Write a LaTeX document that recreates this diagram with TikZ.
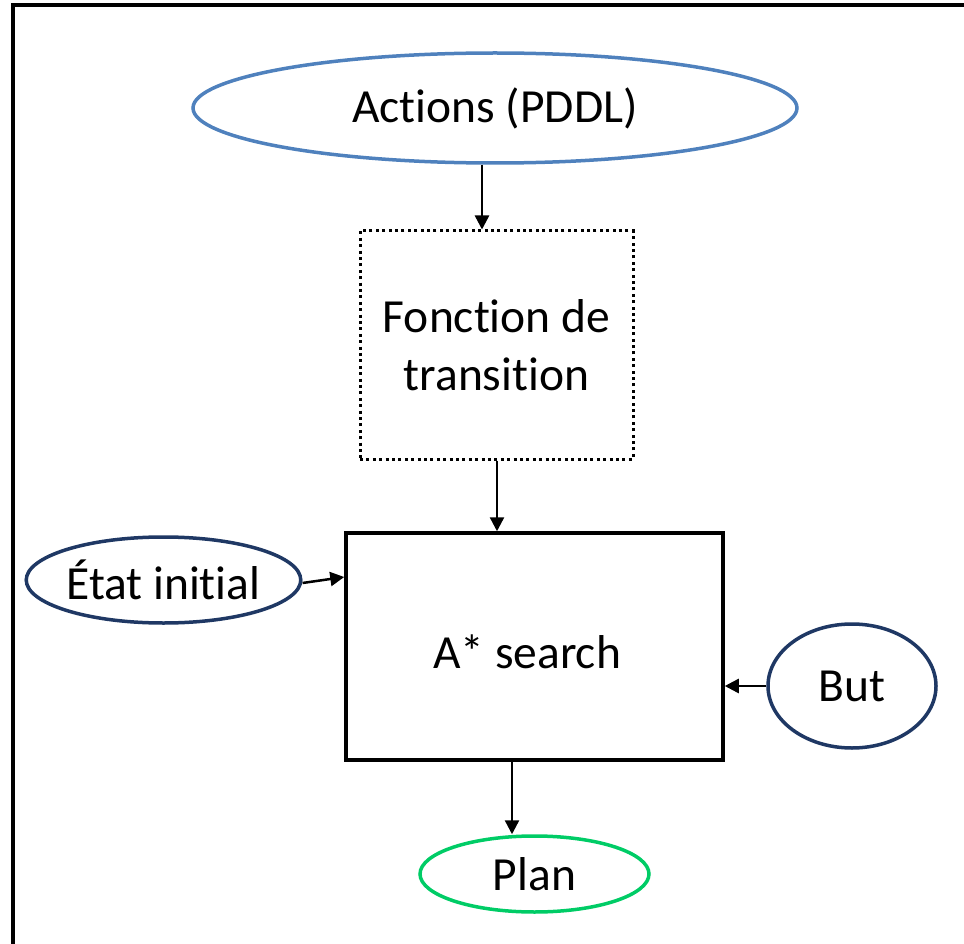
\documentclass[tikz,border=0pt]{standalone}
\usepackage{fontspec}
\setmainfont{Carlito}[Ligatures=NoCommon]
\usetikzlibrary{shapes.geometric,arrows.meta}
\definecolor{actblue}{RGB}{79,129,189}
\definecolor{navy}{RGB}{31,56,100}
\definecolor{plangreen}{RGB}{0,204,102}
\tikzset{
  lbl/.style={font=\fontsize{47.5}{58}\selectfont, align=center, text=black},
  oval/.style={ellipse, draw, line width=3.5pt, inner sep=0pt, lbl},
  dotbox/.style={draw, line width=3pt, dash pattern=on 3pt off 3.4pt, inner sep=0pt, lbl},
  solidbox/.style={draw, line width=3.5pt, inner sep=0pt, lbl},
  arr/.style={line width=2.5pt, -{Triangle[width=14pt,length=14pt]}}
}
\begin{document}
\begin{tikzpicture}[x=1pt, y=-1pt]
\useasboundingbox (0,0) rectangle (964,944);
% outer frame (left and top edges)
\draw[line width=4pt] (13,944) -- (13,5) -- (964,5);

\node[oval, draw=actblue, minimum width=604pt, minimum height=110pt] (actions) at (495,108) {\raisebox{-3pt}{Actions (PDDL)}};
\node[dotbox, minimum width=273pt, minimum height=228pt] (trans) at (496.5,345) {Fonction de\\transition};
\node[solidbox, minimum width=377pt, minimum height=227pt] (search) at (534.5,646.5) {};
\node[lbl] (searchtxt) at (527,652) {A* search};
\node[oval, draw=navy, minimum width=273pt, minimum height=86pt] (init) at (163.5,580) {État initial};
\node[oval, draw=navy, minimum width=168pt, minimum height=124pt] (goal) at (852,686) {But};
\node[oval, draw=plangreen, minimum width=229pt, minimum height=76pt] (plan) at (534.5,874) {Plan};

\coordinate (ax) at (482,0);
\coordinate (bx) at (497,0);
\coordinate (cx) at (512,0);
\coordinate (iy) at (0,583);
\coordinate (sy) at (0,577);
\coordinate (gy) at (0,686);

\draw[arr] (actions.south -| ax) -- (trans.north -| ax);
\draw[arr] (trans.south -| bx) -- (search.north -| bx);
\draw[arr] (init.east |- iy) -- (search.west |- sy);
\draw[arr] (goal.west |- gy) -- (search.east |- gy);
\draw[arr] (search.south -| cx) -- (plan.north -| cx);
\end{tikzpicture}
\end{document}
